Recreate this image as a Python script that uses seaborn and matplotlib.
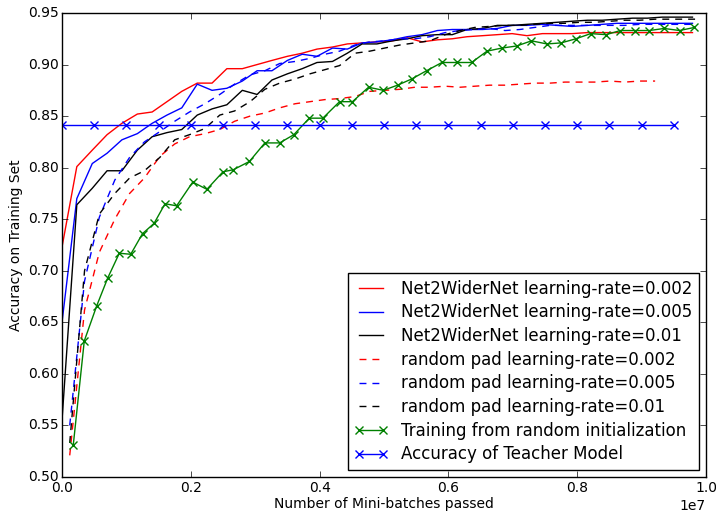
import numpy as np
import pandas as pd
import matplotlib
matplotlib.use("Agg")
import matplotlib.pyplot as plt
import seaborn as sns

# x positions in millions of mini-batches
batches = [0.0, 0.23, 0.47, 0.70, 0.93, 1.17, 1.40, 1.63, 1.86, 2.10, 2.33, 2.56, 2.80,
           3.03, 3.26, 3.50, 3.73, 3.96, 4.20, 4.43, 4.66, 4.89, 5.13, 5.36, 5.59, 5.83,
           6.06, 6.29, 6.53, 6.76, 6.99, 7.22, 7.46, 7.69, 7.92, 8.16, 8.39, 8.62, 8.86,
           9.09, 9.32, 9.56, 9.79]
dash_batches = [0.12, 0.35, 0.58, 0.82, 1.05, 1.28, 1.52, 1.75, 1.98, 2.22, 2.45, 2.68,
                2.92, 3.15, 3.38, 3.62, 3.85, 4.08, 4.31, 4.55, 4.78, 5.01, 5.25, 5.48,
                5.71, 5.95, 6.18, 6.41, 6.64, 6.88, 7.11, 7.34, 7.58, 7.81, 8.04, 8.27,
                8.51, 8.74, 8.97, 9.21, 9.44, 9.67, 9.85]
green_batches = [0.175, 0.346, 0.539, 0.710, 0.890, 1.067, 1.25, 1.43, 1.60, 1.78, 2.03,
                 2.25, 2.50, 2.66, 2.91, 3.15, 3.38, 3.60, 3.84, 4.05, 4.31, 4.51, 4.76,
                 4.99, 5.21, 5.43, 5.66, 5.90, 6.14, 6.36, 6.60, 6.83, 7.06, 7.29, 7.53,
                 7.75, 7.98, 8.21, 8.45, 8.67, 8.90, 9.12, 9.35, 9.59, 9.82]
teacher_batches = [0.0, 0.5, 1.0, 1.5, 2.0, 2.5, 3.0, 3.5, 4.0, 4.5, 5.0, 5.5, 6.0, 6.5,
                   7.0, 7.5, 8.0, 8.5, 9.0, 9.5]

wider_002 = [0.723, 0.801, 0.817, 0.832, 0.843, 0.852, 0.854, 0.864, 0.874, 0.882, 0.882,
             0.896, 0.896, 0.900, 0.904, 0.908, 0.911, 0.915, 0.917, 0.920, 0.921, 0.922,
             0.923, 0.926, 0.922, 0.924, 0.925, 0.927, 0.928, 0.929, 0.930, 0.928, 0.930,
             0.930, 0.930, 0.931, 0.931, 0.931, 0.931, 0.931, 0.931, 0.931, 0.931]
wider_005 = [0.650, 0.770, 0.804, 0.814, 0.827, 0.833, 0.843, 0.851, 0.858, 0.881, 0.875,
             0.877, 0.884, 0.894, 0.894, 0.904, 0.910, 0.908, 0.916, 0.915, 0.921, 0.922,
             0.924, 0.927, 0.929, 0.933, 0.934, 0.934, 0.934, 0.935, 0.938, 0.938, 0.939,
             0.938, 0.937, 0.938, 0.939, 0.940, 0.940, 0.940, 0.940, 0.940, 0.940]
wider_01 = [0.555, 0.764, 0.780, 0.797, 0.797, 0.817, 0.830, 0.834, 0.837, 0.851, 0.857,
            0.861, 0.875, 0.871, 0.885, 0.891, 0.896, 0.902, 0.903, 0.911, 0.920, 0.920,
            0.923, 0.925, 0.928, 0.929, 0.929, 0.934, 0.935, 0.938, 0.938, 0.939, 0.940,
            0.941, 0.942, 0.943, 0.943, 0.944, 0.945, 0.945, 0.946, 0.946, 0.946]
pad_002 = [0.521, 0.662, 0.718, 0.750, 0.775, 0.790, 0.811, 0.823, 0.830, 0.833, 0.837,
           0.845, 0.850, 0.853, 0.858, 0.862, 0.864, 0.866, 0.867, 0.869, 0.874, 0.875,
           0.876, 0.878, 0.878, 0.879, 0.878, 0.879, 0.880, 0.880, 0.881, 0.882, 0.882,
           0.883, 0.883, 0.883, 0.884, 0.883, 0.884, 0.884]
pad_005 = [0.550, 0.690, 0.752, 0.788, 0.810, 0.825, 0.835, 0.845, 0.854, 0.862, 0.871,
           0.881, 0.890, 0.894, 0.901, 0.903, 0.906, 0.910, 0.913, 0.919, 0.922, 0.923,
           0.925, 0.925, 0.927, 0.931, 0.933, 0.934, 0.935, 0.933, 0.934, 0.936, 0.938,
           0.938, 0.938, 0.938, 0.938, 0.938, 0.939, 0.939, 0.939, 0.939, 0.939]
pad_01 = [0.533, 0.700, 0.755, 0.775, 0.790, 0.797, 0.810, 0.827, 0.832, 0.838, 0.851,
          0.855, 0.864, 0.876, 0.882, 0.886, 0.891, 0.895, 0.899, 0.911, 0.913, 0.916,
          0.919, 0.921, 0.923, 0.929, 0.933, 0.936, 0.937, 0.938, 0.938, 0.939, 0.940,
          0.940, 0.941, 0.941, 0.942, 0.943, 0.943, 0.944, 0.944, 0.944, 0.944]
random_init = [0.531, 0.632, 0.666, 0.693, 0.717, 0.716, 0.736, 0.746, 0.765, 0.763, 0.786,
               0.779, 0.796, 0.798, 0.806, 0.824, 0.824, 0.832, 0.848, 0.848, 0.864, 0.864,
               0.878, 0.875, 0.880, 0.886, 0.894, 0.902, 0.902, 0.902, 0.913, 0.916, 0.918,
               0.923, 0.920, 0.921, 0.925, 0.930, 0.929, 0.933, 0.933, 0.933, 0.935, 0.933,
               0.936]
teacher = [0.841] * len(teacher_batches)

labels = ["Net2WiderNet learning-rate=0.002", "Net2WiderNet learning-rate=0.005",
          "Net2WiderNet learning-rate=0.01", "random pad learning-rate=0.002",
          "random pad learning-rate=0.005", "random pad learning-rate=0.01",
          "Training from random initialization", "Accuracy of Teacher Model"]

plt.style.use("classic")
plt.rcParams["font.family"] = ["DejaVu Sans"]
fig = plt.figure(figsize=(7.16, 5.12), dpi=100, facecolor="white")
ax = fig.add_axes([62 / 716, 1 - 477 / 512, 644 / 716, 464 / 512])
ax.set_facecolor("white")

dashed = (0, (5.0, 4.3))
series = [
    (batches, wider_002, "r", "-", None),
    (batches, wider_005, "b", "-", None),
    (batches, wider_01, "k", "-", None),
    (dash_batches[:len(pad_002)], pad_002, "r", dashed, None),
    (dash_batches, pad_005, "b", dashed, None),
    (dash_batches, pad_01, "k", dashed, None),
    (green_batches, random_init, "g", "-", "x"),
    (teacher_batches, teacher, "b", "-", "x"),
]
for (xs, ys, c, ls, mk), lab in zip(series, labels):
    df = pd.DataFrame({"x": np.array(xs) * 1e6, "y": ys})
    kw = dict(marker=mk, markersize=6, markeredgewidth=1.0, markeredgecolor=c) if mk else {}
    sns.lineplot(data=df, x="x", y="y", ax=ax, color=c, linestyle=ls, linewidth=1.0,
                 label=lab, sort=False, estimator=None, **kw)

ax.set_xlim(0, 1e7)
ax.set_ylim(0.5, 0.95)
ax.set_xticks(np.arange(0, 1.01e7, 2e6))
ax.set_yticks(np.arange(0.50, 0.951, 0.05))
ax.ticklabel_format(axis="x", style="sci", scilimits=(0, 0))
ax.xaxis.get_offset_text().set_fontsize(10)
ax.tick_params(labelsize=10, direction="in", top=True, right=True, length=4, pad=2)
ax.tick_params(axis="x", pad=3)
ax.set_xlabel("Number of Mini-batches passed", fontsize=10, labelpad=1)
ax.set_ylabel("Accuracy on Training Set", fontsize=10, labelpad=4)

leg = ax.legend(loc="lower right", borderaxespad=0.42,
                fontsize=12, numpoints=2, handlelength=2.0, handletextpad=0.8,
                labelspacing=0.34, borderpad=0.4, frameon=True, fancybox=False)
leg.get_frame().set_edgecolor("black")

fig.savefig("out.png", dpi=100, facecolor="white")
